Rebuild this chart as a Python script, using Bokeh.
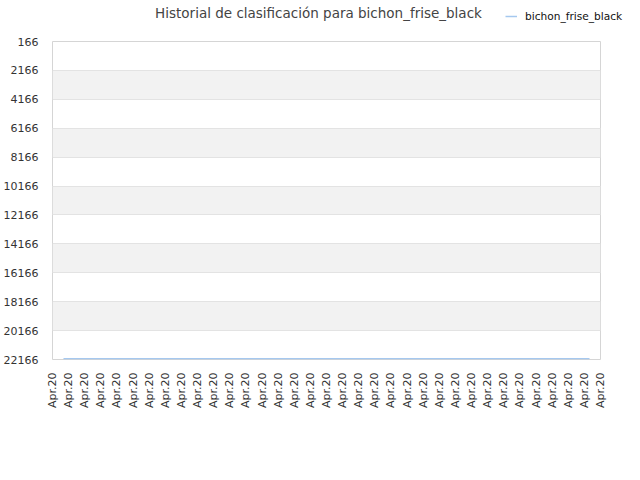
import numpy as np
import pandas as pd
from bokeh.plotting import figure
from bokeh.layouts import column, row
from bokeh.models import Range1d, FixedTicker, DatetimeTickFormatter, Legend, LegendItem, Label
from bokeh.embed import file_html
from bokeh.resources import INLINE

# data
dates = pd.date_range("2020-04-02", "2020-04-30", freq="D")
ranks = [22120] * len(dates)
series_name = "bichon_frise_black"
title_text = "Historial de clasificación para bichon_frise_black"
y_ticks = [166 + 2000 * k for k in range(12)]
n_x_ticks = 35

FONT = "DejaVu Sans"
LINE_COLOR = "#a5c8ef"
W = 624
HEAD_W = 630
HEAD_H = 33

x_dt = dates.to_pydatetime()

# header with title and legend
head = figure(width=HEAD_W, height=HEAD_H, output_backend="svg", toolbar_location=None,
              x_range=Range1d(0, HEAD_W), y_range=Range1d(HEAD_H, 0),
              x_axis_location=None, y_axis_location=None, min_border=0,
              min_border_left=0, min_border_right=0, min_border_top=0, min_border_bottom=0)
head.outline_line_color = None
head.xgrid.visible = False
head.ygrid.visible = False
head.add_layout(Label(x=318, y=12, text=title_text, text_align="center", text_baseline="middle",
                      text_font=FONT, text_font_size="13.5px", text_color="#444444"))
# legend proxy: same series, lies outside the header's visible range
proxy = head.line(x=x_dt, y=ranks, line_color=LINE_COLOR, line_width=1.5)
legend = Legend(items=[LegendItem(label=series_name, renderers=[proxy])],
                location=(505, 11), orientation="horizontal",
                background_fill_alpha=0, border_line_color=None,
                label_text_font=FONT, label_text_font_size="10.6px", label_text_color="#111111",
                glyph_width=12, glyph_height=10, padding=0, margin=0, label_standoff=8)
head.add_layout(legend, "center")

# main chart
x0 = pd.Timestamp(dates[0]).value / 1e6
x1 = pd.Timestamp(dates[-1]).value / 1e6
pad = (x1 - x0) * 11.0 / 527.0
xs = x0 - pad
xe = x1 + pad

p = figure(width=W, height=464 - HEAD_H, output_backend="svg", toolbar_location=None,
           x_axis_type="datetime",
           x_range=Range1d(xs, xe), y_range=Range1d(max(y_ticks), min(y_ticks)),
           min_border_left=43, min_border_right=24, min_border_top=8, min_border_bottom=105)

p.line(x_dt, ranks, line_color=LINE_COLOR, line_width=1.5)

p.outline_line_color = "#d5d5d5"
p.outline_line_width = 1

p.xgrid.grid_line_color = None
p.ygrid.grid_line_color = "#e3e3e3"
p.ygrid.band_fill_color = "#f2f2f2"
p.ygrid.band_fill_alpha = 1.0

p.yaxis.ticker = FixedTicker(ticks=y_ticks)
p.xaxis.ticker = FixedTicker(ticks=list(np.linspace(xs, xe, n_x_ticks)))
p.xaxis.formatter = DatetimeTickFormatter(days="%b.%y", hours="%b.%y", months="%b.%y",
                                          hourmin="%b.%y", minutes="%b.%y")
p.xaxis.major_label_orientation = np.pi / 2

for ax in (p.xaxis[0], p.yaxis[0]):
    ax.axis_line_color = None
    ax.major_tick_line_color = None
    ax.minor_tick_line_color = None
    ax.major_label_text_font = FONT
    ax.major_label_text_font_size = "11px"
    ax.major_label_text_color = "#333333"
p.yaxis.major_label_standoff = 8
p.xaxis.major_label_standoff = 7

layout = column(row(head), p, spacing=0)
open("out.html", "w").write(file_html(layout, INLINE))
